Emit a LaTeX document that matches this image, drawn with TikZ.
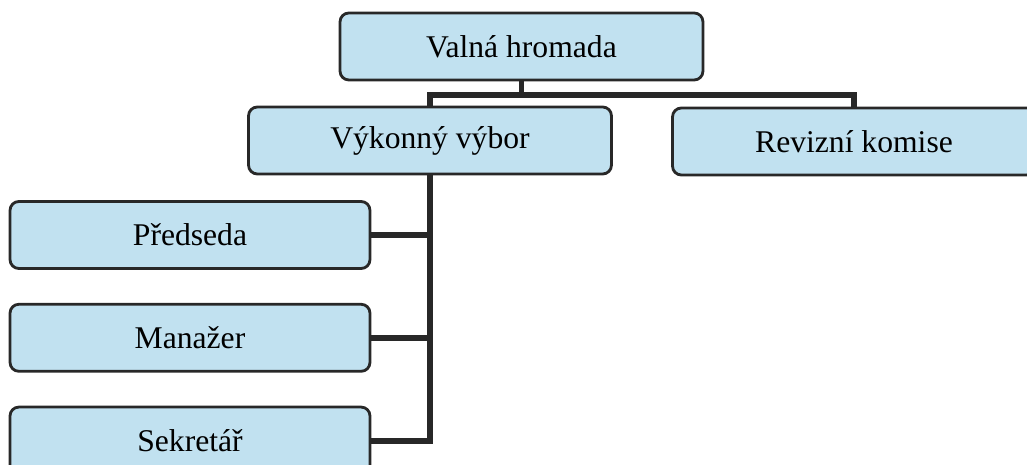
\documentclass[tikz,border=0pt]{standalone}
\usepackage{fontspec}
\setmainfont{Liberation Serif}
\usetikzlibrary{positioning}
\definecolor{boxblue}{RGB}{193,225,240}
\definecolor{linegray}{RGB}{40,40,40}

\begin{document}
\begin{tikzpicture}[
  x=0.02cm, y=-0.02cm, node distance=0.66cm,
  unit/.style={rectangle, draw=linegray, line width=1.6pt, rounded corners=5pt,
               fill=boxblue, minimum width=7.26cm, minimum height=1.34cm,
               inner sep=0pt, font=\fontsize{18}{21}\selectfont},
  member/.style={unit, minimum width=7.2cm},
  link/.style={draw=linegray, line width=3.4pt}
]
\useasboundingbox (0,0) rectangle (1027,465);
\clip (0,0) rectangle (1027,465);

\node[unit] (valna) at (521.5,46.5) {Valná hromada};
\node[unit] (vykon) at (430,140.5) {Výkonný výbor};
\node[unit] (reviz) at (854,141.5) {Revizní komise};
\node[member] (predseda) at (190,235) {Předseda};
\node[member, below=of predseda] (manazer) {Manažer};
\node[member, below=of manazer] (sekretar) {Sekretář};

% valna hromada -> vybor, komise
\draw[link] (valna.south) -- ++(0,14) coordinate (bus);
\draw[link] (vykon.north) -- (vykon.north |- bus) -- (reviz.north |- bus) -- (reviz.north);

% vybor -> clenove
\draw[link] (vykon.south) -- (vykon.south |- sekretar.east) -- (sekretar.east);
\draw[link] (predseda.east) -- (predseda.east -| vykon.south);
\draw[link] (manazer.east) -- (manazer.east -| vykon.south);

\end{tikzpicture}
\end{document}
